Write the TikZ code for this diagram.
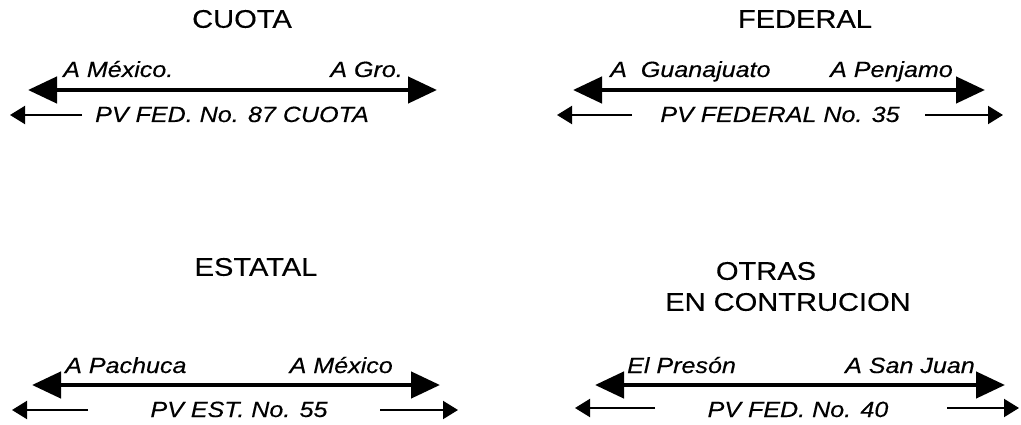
\documentclass[tikz,border=0pt]{standalone}
\usepackage{fontspec}
\setmainfont{Liberation Sans}
\newfontfamily\titlefont[FakeStretch=1.14,FakeBold=0.3]{Liberation Sans}
\newfontfamily\labelfont[FakeStretch=1.14,FakeBold=0.3]{Liberation Sans}
\usetikzlibrary{arrows.meta, positioning}

\begin{document}
\begin{tikzpicture}[x=1pt,y=-1pt,
	titulo/.style={inner sep=0pt, font=\titlefont\fontsize{25.5}{30}\selectfont},
	destino/.style={inner sep=0pt, font=\labelfont\itshape\fontsize{22}{25}\selectfont},
	sentido/.style={line width=4.5pt, {Triangle[length=29pt,width=26pt]}-{Triangle[length=29pt,width=26pt]}},
	ramal/.style={line width=2pt, -{Triangle[length=15pt,width=18pt]}}]
		\useasboundingbox (0,0) rectangle (1021,425);

		% Cuota
		\node[titulo] (cuota) at (242,19) {CUOTA};
		\coordinate (cuotaL) at (28,90);
		\coordinate (cuotaR) at (437,90);
		\draw[sentido] (cuotaL) -- (cuotaR);
		\node[destino, anchor=base west] (mexA) at (63,77) {A México.};
		\node[destino, anchor=base east] (gro) at (403,77) {A Gro.};
		\coordinate (pv87a) at (82,115);
		\coordinate (pv87b) at (10,115);
		\draw[ramal] (pv87a) -- (pv87b);
		\node[destino, anchor=base] (pv87) at (232,122) {PV FED. No. 87 CUOTA};

		% Federal
		\node[titulo] (federal) at (805,19) {FEDERAL};
		\coordinate (fedL) at (573,90);
		\coordinate (fedR) at (985,90);
		\draw[sentido] (fedL) -- (fedR);
		\node[destino, anchor=base west] (gto) at (610,77) {A~~Guanajuato};
		\node[destino, anchor=base east] (penjamo) at (953,77) {A Penjamo};
		\coordinate (pv35a) at (632,115);
		\coordinate (pv35b) at (557,115);
		\coordinate (pv35c) at (925,115);
		\coordinate (pv35d) at (1003,115);
		\draw[ramal] (pv35a) -- (pv35b);
		\draw[ramal] (pv35c) -- (pv35d);
		\node[destino, anchor=base] (pv35) at (780,122) {PV FEDERAL No. 35};

		% Estatal
		\node[titulo] (estatal) at (256,267) {ESTATAL};
		\coordinate (estL) at (32,385);
		\coordinate (estR) at (440,385);
		\draw[sentido] (estL) -- (estR);
		\node[destino, anchor=base west] (pachuca) at (65,373) {A Pachuca};
		\node[destino, anchor=base east] (mexB) at (393,373) {A México};
		\coordinate (pv55a) at (88,410);
		\coordinate (pv55b) at (12,410);
		\coordinate (pv55c) at (380,410);
		\coordinate (pv55d) at (458,410);
		\draw[ramal] (pv55a) -- (pv55b);
		\draw[ramal] (pv55c) -- (pv55d);
		\node[destino, anchor=base] (pv55) at (239,417) {PV EST. No. 55};

		% Otras
		\node[titulo] (otras) at (766,271) {OTRAS};
		\node[titulo] (constr) at (788,302) {EN CONTRUCION};
		\coordinate (otrL) at (595,385);
		\coordinate (otrR) at (1005,385);
		\draw[sentido] (otrL) -- (otrR);
		\node[destino, anchor=base west] (preson) at (627,373) {El Presón};
		\node[destino, anchor=base east] (sanjuan) at (975,373) {A San Juan};
		\coordinate (pv40a) at (655,408);
		\coordinate (pv40b) at (575,408);
		\coordinate (pv40c) at (947,408);
		\coordinate (pv40d) at (1019,408);
		\draw[ramal] (pv40a) -- (pv40b);
		\draw[ramal] (pv40c) -- (pv40d);
		\node[destino, anchor=base] (pv40) at (798,417) {PV FED. No. 40};

	\end{tikzpicture}
\end{document}
